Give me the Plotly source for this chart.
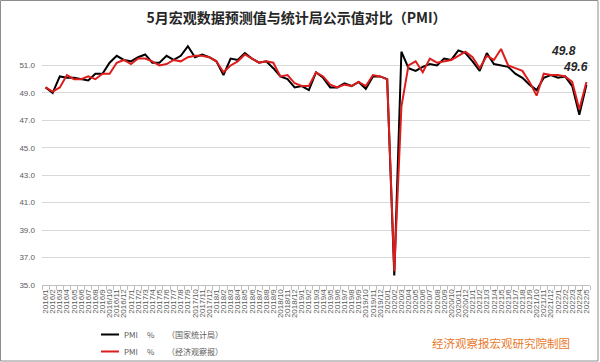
import plotly.graph_objects as go

# ---- data ----
months = (
    [f"2016/{m}" for m in range(1, 13)] +
    [f"2017/{m}" for m in range(1, 13)] +
    [f"2018/{m}" for m in range(1, 13)] +
    [f"2019/{m}" for m in range(1, 13)] +
    [f"2020/{m}" for m in range(1, 13)] +
    [f"2021/{m}" for m in range(1, 13)] +
    [f"2022/{m}" for m in range(1, 6)]
)

pmi_nbs = [
    49.4, 49.0, 50.2, 50.1, 50.1, 50.0, 49.9, 50.4, 50.4, 51.2, 51.7, 51.4,
    51.3, 51.6, 51.8, 51.2, 51.2, 51.7, 51.4, 51.7, 52.4, 51.6, 51.8, 51.6,
    51.3, 50.3, 51.5, 51.4, 51.9, 51.5, 51.2, 51.3, 50.8, 50.2, 50.0, 49.4,
    49.5, 49.2, 50.5, 50.1, 49.4, 49.4, 49.7, 49.5, 49.8, 49.3, 50.2, 50.2,
    50.0, 35.7, 52.0, 50.8, 50.6, 50.9, 51.1, 51.0, 51.5, 51.4, 52.1, 51.9,
    51.3, 50.6, 51.9, 51.1, 51.0, 50.9, 50.4, 50.1, 49.6, 49.2, 50.1, 50.3,
    50.1, 50.2, 49.5, 47.4, 49.6,
]

pmi_eeo = [
    49.4, 49.1, 49.4, 50.3, 50.0, 50.0, 50.2, 50.0, 50.4, 50.4, 51.2, 51.4,
    51.1, 51.5, 51.5, 51.3, 51.0, 51.1, 51.4, 51.3, 51.6, 51.7, 51.7, 51.6,
    51.3, 50.5, 51.0, 51.3, 51.8, 51.5, 51.2, 51.3, 51.2, 50.2, 50.3, 49.7,
    49.5, 49.5, 50.5, 50.2, 49.6, 49.4, 49.6, 49.5, 49.8, 49.5, 50.3, 50.2,
    50.0, 36.0, 48.0, 51.0, 51.3, 50.5, 51.5, 51.2, 51.3, 51.4, 51.7, 52.0,
    51.6, 50.8, 51.7, 51.4, 52.2, 51.0, 50.8, 50.6, 49.8, 48.8, 50.4, 50.3,
    50.3, 50.2, 49.8, 47.8, 49.8,
]

y_ticks = [35, 37, 39, 41, 43, 45, 47, 49, 51]
y_tick_text = [f"{v:.1f}" for v in y_ticks]

title_text = "5月宏观数据预测值与统计局公示值对比（PMI）"
legend_names = ["（国家统计局）", "（经济观察报）"]
source_text = "经济观察报宏观研究院制图"
end_labels = ["49.8", "49.6"]

# ---- layout constants ----
W, H = 600, 362
ML, MR, MT, MB = 42, 10, 38, 77
PW, PH = W - ML - MR, H - MT - MB


def px2paper(px, py):
    return (px - ML) / PW, (H - MB - py) / PH


FONT = "Noto Sans CJK SC, Liberation Sans, sans-serif"
GREY = "#595959"
BLACK = "#000000"
RED = "#DD1C1C"

fig = go.Figure()
fig.add_trace(go.Scatter(x=months, y=pmi_nbs, mode="lines",
                         line=dict(color=BLACK, width=2), showlegend=False))
fig.add_trace(go.Scatter(x=months, y=pmi_eeo, mode="lines",
                         line=dict(color=RED, width=2), showlegend=False))

shapes = []
annotations = []

# outer border
bx0, by0 = px2paper(0.5, 361)
bx1, by1 = px2paper(598, 0.5)
shapes.append(dict(type="rect", xref="paper", yref="paper", x0=bx0, x1=bx1,
                   y0=by0, y1=by1, line=dict(color="#8C8C8C", width=1),
                   fillcolor="rgba(0,0,0,0)", layer="below"))

# manual legend
for color, py, name in [(BLACK, 334.5, legend_names[0]), (RED, 351.5, legend_names[1])]:
    lx0, ly = px2paper(101, py)
    lx1, _ = px2paper(119, py)
    shapes.append(dict(type="line", xref="paper", yref="paper", x0=lx0, x1=lx1,
                       y0=ly, y1=ly, line=dict(color=color, width=2)))
    for txt, px in [("PMI", 121.5), ("%", 144.5), (name, 165)]:
        ax, ay = px2paper(px, py)
        annotations.append(dict(xref="paper", yref="paper", x=ax, y=ay, text=txt,
                                showarrow=False, xanchor="left", yanchor="middle",
                                font=dict(family=FONT, size=8, color=GREY)))

# source
sx, sy = px2paper(501, 343)
annotations.append(dict(xref="paper", yref="paper", x=sx, y=sy, text=source_text,
                        showarrow=False, xanchor="center", yanchor="middle",
                        font=dict(family=FONT, size=11.5, color="#E8782A")))

# end labels
for txt, (px, py) in zip(end_labels, [(563.5, 51), (575.5, 66.5)]):
    ax, ay = px2paper(px, py)
    annotations.append(dict(xref="paper", yref="paper", x=ax, y=ay,
                            text=f"<b><i>{txt}</i></b>", showarrow=False,
                            xanchor="center", yanchor="middle",
                            font=dict(family="Liberation Sans, sans-serif", size=12, color="#262626")))

fig.update_layout(
    width=W, height=H,
    margin=dict(l=ML, r=MR, t=MT, b=MB, pad=0),
    paper_bgcolor="white", plot_bgcolor="white",
    title=dict(text=f"<b>{title_text}</b>", x=296.5 / W, y=1 - 18 / H,
               xanchor="center", yanchor="middle",
               font=dict(family=FONT, size=14, color="#262626")),
    shapes=shapes, annotations=annotations,
    showlegend=False,
    xaxis=dict(type="category", range=[-0.5, len(months) - 0.5],
               tickmode="linear", dtick=1, tick0=0, tickson="boundaries",
               ticks="outside", ticklen=4, tickcolor="#BFBFBF", tickwidth=1,
               showline=True, linecolor="#BFBFBF", linewidth=1,
               showgrid=False, tickangle=-90,
               tickfont=dict(family="Liberation Sans, sans-serif", size=8, color=GREY)),
    yaxis=dict(range=[35, 53], tickmode="array", tickvals=y_ticks, ticktext=y_tick_text,
               showgrid=True, gridcolor="#D9D9D9", gridwidth=1,
               zeroline=False, showline=False, ticks="",
               ticklabelstandoff=6,
               tickfont=dict(family="Liberation Sans, sans-serif", size=8, color=GREY)),
)

fig.write_html(
    "out.html",
    config={"displayModeBar": False},
    post_script="document.body.style.margin='0';document.body.style.overflow='hidden';",
)
